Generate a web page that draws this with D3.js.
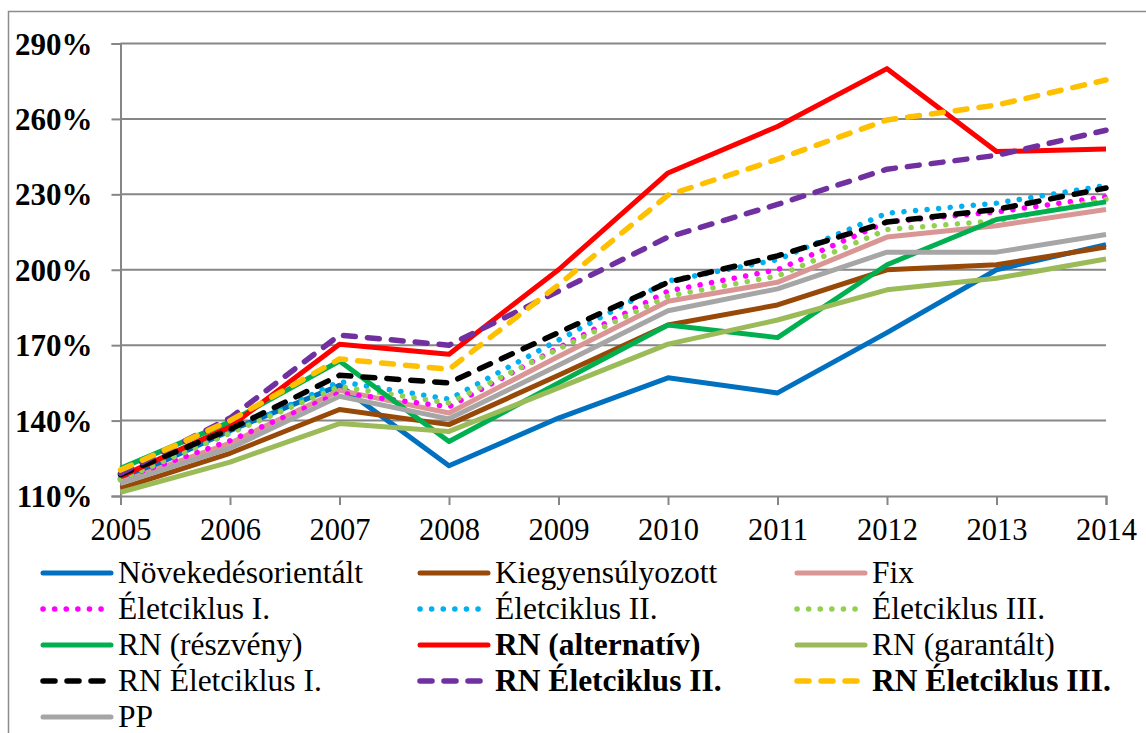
<!DOCTYPE html>
<html>
<head>
<meta charset="utf-8">
<script src="https://cdn.jsdelivr.net/npm/d3@7"></script>
</head>
<body style="margin:0;background:#fff">
<svg id="chart" width="1146" height="733" font-family="Liberation Serif, Times New Roman, serif" style="display:block;font-family:'Liberation Serif','Times New Roman',serif"></svg>
<script>
const years = [2005, 2006, 2007, 2008, 2009, 2010, 2011, 2012, 2013, 2014];
const yTicks = [110, 140, 170, 200, 230, 260, 290];

const seriesNames = [
  "Növekedésorientált", "Kiegyensúlyozott", "Fix",
  "Életciklus I.", "Életciklus II.", "Életciklus III.",
  "RN (részvény)", "RN (alternatív)", "RN (garantált)",
  "RN Életciklus I.", "RN Életciklus II.", "RN Életciklus III.",
  "PP"
];

const novekedes        = [116, 136, 154, 122, 141, 157, 151, 175, 200, 210];
const kiegyensulyozott = [113, 127, 144.4, 138.4, 158, 178, 186, 200, 202, 209];
const fix              = [115.5, 131, 152, 143, 165.5, 187.5, 195, 213, 217.5, 224];
const eletciklus1      = [116.5, 132, 151, 145.5, 169, 191.5, 200, 219, 223, 229];
const eletciklus2      = [117, 135, 155.5, 148.5, 172, 195.5, 204, 222.5, 226.5, 233.5];
const eletciklus3      = [116.5, 135, 153.5, 147, 168.5, 189.5, 197.5, 216, 219.5, 228];
const rnReszveny       = [121, 139.5, 163.7, 131.7, 155, 178, 173, 202, 220, 227];
const rnAlternativ     = [117.7, 137.5, 170.4, 166.4, 200, 238.5, 257, 280, 247, 248];
const rnGarantalt      = [111.5, 123.5, 138.8, 135.7, 153, 170.4, 180, 192, 196.6, 204.3];
const rnElet1          = [118.5, 136.5, 158, 155, 175, 195, 205.5, 219, 224, 232.5];
const rnElet2          = [119, 141, 174, 170, 191.5, 213, 226, 240, 245.5, 255.5];
const rnElet3          = [120.3, 140, 164.5, 160.4, 194, 229.7, 244, 259.6, 265.5, 275.5];
const pp               = [115, 129, 149.7, 140.7, 162, 183.7, 192.4, 207, 207, 214];

const seriesValues = [novekedes, kiegyensulyozott, fix, eletciklus1, eletciklus2, eletciklus3,
  rnReszveny, rnAlternativ, rnGarantalt, rnElet1, rnElet2, rnElet3, pp];

// styles
const colors = ["#0070C0", "#984807", "#D99694", "#FF00FF", "#00B0F0", "#92D050",
  "#00B050", "#FF0000", "#9BBB59", "#000000", "#7030A0", "#FFC000", "#A6A6A6"];
const kinds = ["solid", "solid", "solid", "dot", "dot", "dot",
  "solid", "solid", "solid", "dash", "dash", "dash", "solid"];
const bold = [false, false, false, false, false, false, false, true, false, false, true, true, false];

const SERIF = "'Liberation Serif', 'Times New Roman', serif";
const svg = d3.select("#chart");

// outer border
svg.append("rect").attr("x", 8.5).attr("y", 11.5).attr("width", 1160).attr("height", 740)
  .attr("fill", "none").attr("stroke", "#8c8c8c").attr("stroke-width", 1.5);

const x = d3.scalePoint().domain(years).range([120.5, 1106]);
const y = d3.scaleLinear().domain([110, 290]).range([496, 43.5]);

// gridlines
svg.append("g").selectAll("line").data(yTicks.slice(1)).join("line")
  .attr("x1", 120.5).attr("x2", 1106)
  .attr("y1", d => y(d)).attr("y2", d => y(d))
  .attr("stroke", "#868686").attr("stroke-width", 2);

// y axis
const yAxis = d3.axisLeft(y).tickValues(yTicks).tickSize(9).tickPadding(19)
  .tickFormat(d => d + "%");
const gy = svg.append("g").attr("transform", "translate(120.5,0)").call(yAxis)
  .attr("font-family", null).attr("font-size", null);
gy.select(".domain").attr("stroke", "#868686").attr("stroke-width", 2);
gy.selectAll(".tick line").attr("stroke", "#868686").attr("stroke-width", 2);
gy.selectAll(".tick text")
  .attr("font-family", SERIF).style("font-family", SERIF)
  .attr("font-size", 31).attr("font-weight", "bold")
  .attr("fill", "#000").attr("dy", "0.34em");

// x axis
const xAxis = d3.axisBottom(x).tickSize(9).tickPadding(13).tickFormat(d => d);
const gx = svg.append("g").attr("transform", "translate(0,496)").call(xAxis)
  .attr("font-family", null).attr("font-size", null);
gx.select(".domain").attr("stroke", "#868686").attr("stroke-width", 2);
gx.selectAll(".tick line").attr("stroke", "#868686").attr("stroke-width", 2);
gx.selectAll(".tick text")
  .attr("font-family", SERIF).style("font-family", SERIF)
  .attr("font-size", 30.5)
  .attr("fill", "#000");

function applyStyle(sel, i) {
  sel.attr("stroke", colors[i]).attr("fill", "none");
  if (kinds[i] === "solid") {
    sel.attr("stroke-width", 5).attr("stroke-linejoin", "round").attr("stroke-linecap", "butt");
  } else if (kinds[i] === "dot") {
    sel.attr("stroke-width", 5.5).attr("stroke-linecap", "round").attr("stroke-dasharray", "0.1,11.5")
      .attr("stroke-linejoin", "round");
  } else {
    sel.attr("stroke-width", 5.5).attr("stroke-linecap", "round").attr("stroke-dasharray", "12,12")
      .attr("stroke-linejoin", "round");
  }
}

const line = d3.line().x((d, j) => x(years[j])).y(d => y(d));

const gLines = svg.append("g");
seriesValues.forEach((vals, i) => {
  const p = gLines.append("path").datum(vals).attr("d", line);
  applyStyle(p, i);
});

// legend
const colX = [41, 418, 795];
const legend = svg.append("g");
seriesNames.forEach((name, i) => {
  const col = i % 3, row = Math.floor(i / 3);
  const lx = colX[col];
  const ly = 573 + row * 36;
  const l = legend.append("line").attr("x1", lx + 2).attr("x2", lx + 70)
    .attr("y1", ly).attr("y2", ly);
  applyStyle(l, i);
  if (kinds[i] === "solid") l.attr("stroke-linecap", "round");
  legend.append("text").attr("x", lx + 77).attr("y", ly + 9.5)
    .attr("font-family", SERIF).style("font-family", SERIF)
    .attr("font-size", 31.5)
    .attr("font-weight", bold[i] ? "bold" : "normal")
    .attr("fill", "#000")
    .text(name);
});
</script>
</body>
</html>
